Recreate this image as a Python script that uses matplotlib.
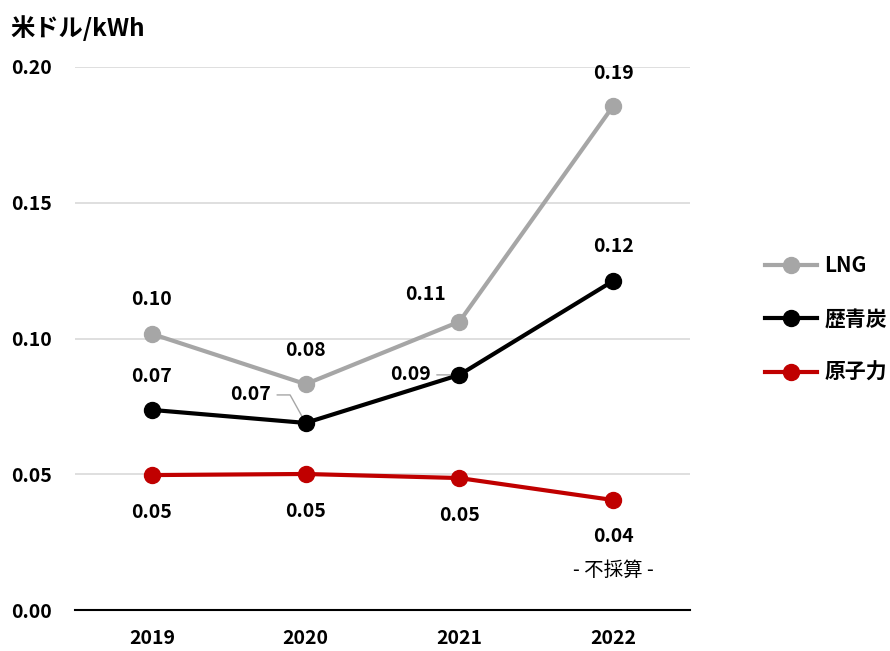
import matplotlib
matplotlib.use('Agg')
import matplotlib.pyplot as plt

plt.rcParams['font.family'] = ['Noto Sans CJK JP', 'DejaVu Sans']

# data
years = ['2019', '2020', '2021', '2022']
lng = [0.1017, 0.0832, 0.1062, 0.1856]
coal = [0.0737, 0.0689, 0.0866, 0.1212]
nuclear = [0.0497, 0.0501, 0.0486, 0.0405]
lng_labels = ['0.10', '0.08', '0.11', '0.19']
coal_labels = ['0.07', '0.07', '0.09', '0.12']
nuclear_labels = ['0.05', '0.05', '0.05', '0.04']
y_ticks = [0.0, 0.05, 0.10, 0.15, 0.20]

c_lng = '#A6A6A6'
c_coal = '#000000'
c_nuc = '#C00000'
c_grid = '#D9D9D9'

fig = plt.figure(figsize=(8.9, 6.51), dpi=100)
ax = fig.add_axes([75/890, 41/651, 615/890, 543/651])

x = list(range(len(years)))
ax.plot(x, lng, color=c_lng, lw=3, marker='o', ms=11.5, label='LNG', zorder=3)
ax.plot(x, coal, color=c_coal, lw=3, marker='o', ms=11.5, label='歴青炭', zorder=4)
ax.plot(x, nuclear, color=c_nuc, lw=3, marker='o', ms=11.5, label='原子力', zorder=3)

ax.set_xlim(-0.5, 3.5)
ax.set_ylim(0, 0.2)
ax.set_yticks(y_ticks)
ax.set_yticklabels(['%.2f' % v for v in y_ticks])
ax.set_xticks(x)
ax.set_xticklabels(years)
for lab in ax.get_xticklabels() + ax.get_yticklabels():
    lab.set_fontweight('bold')
    lab.set_fontsize(14)
ax.tick_params(length=0)
ax.tick_params(axis='y', pad=16.5)
ax.tick_params(axis='x', pad=14)

for v in y_ticks[1:]:
    ax.axhline(v, color=c_grid, lw=1.2, zorder=1)
for s in ['top', 'right', 'left']:
    ax.spines[s].set_visible(False)
ax.spines['bottom'].set_color('black')
ax.spines['bottom'].set_linewidth(1.5)

lab_kw = dict(textcoords='offset pixels', ha='center', va='center',
              fontsize=14, fontweight='bold')

# LNG labels
lng_off = [(0, 34), (0, 34), (-34, 27), (0, 33)]
for i in x:
    ax.annotate(lng_labels[i], (i, lng[i]), xytext=lng_off[i], **lab_kw)

# coal labels
coal_off = [(0, 33), (-55, 28), (-49, 0), (0, 34)]
for i in x:
    if i == 1:
        ax.annotate(coal_labels[i], (i, coal[i]), xytext=coal_off[i],
                    arrowprops=dict(arrowstyle='-', color=c_lng, lw=1,
                                    relpos=(1.08, 0.5), shrinkA=2, shrinkB=0,
                                    connectionstyle='angle,angleA=0,angleB=119,rad=0'),
                    **lab_kw)
    elif i == 2:
        ax.annotate(coal_labels[i], (i, coal[i]), xytext=coal_off[i],
                    arrowprops=dict(arrowstyle='-', color=c_lng, lw=1,
                                    relpos=(1.08, 0.5), shrinkA=2, shrinkB=6),
                    **lab_kw)
    else:
        ax.annotate(coal_labels[i], (i, coal[i]), xytext=coal_off[i], **lab_kw)

# nuclear labels
nuc_off = [(0, -37), (0, -38), (0, -37), (0, -36)]
for i in x:
    ax.annotate(nuclear_labels[i], (i, nuclear[i]), xytext=nuc_off[i], **lab_kw)
ax.annotate('- 不採算 -', (3, nuclear[3]), xytext=(0, -70),
            textcoords='offset pixels', ha='center', va='center', fontsize=14)

fig.text(10/890, 1 - 28/651, '米ドル/kWh', fontsize=17.5, fontweight='bold',
         ha='left', va='center')

ax.legend(loc='center left', bbox_to_anchor=(765/890, 1 - 319/651),
          bbox_transform=fig.transFigure, frameon=False,
          prop={'size': 15, 'weight': 'bold'}, handlelength=2.5,
          handletextpad=0.35, labelspacing=1.55, borderpad=0,
          borderaxespad=0)

fig.savefig('out.png', dpi=100)
